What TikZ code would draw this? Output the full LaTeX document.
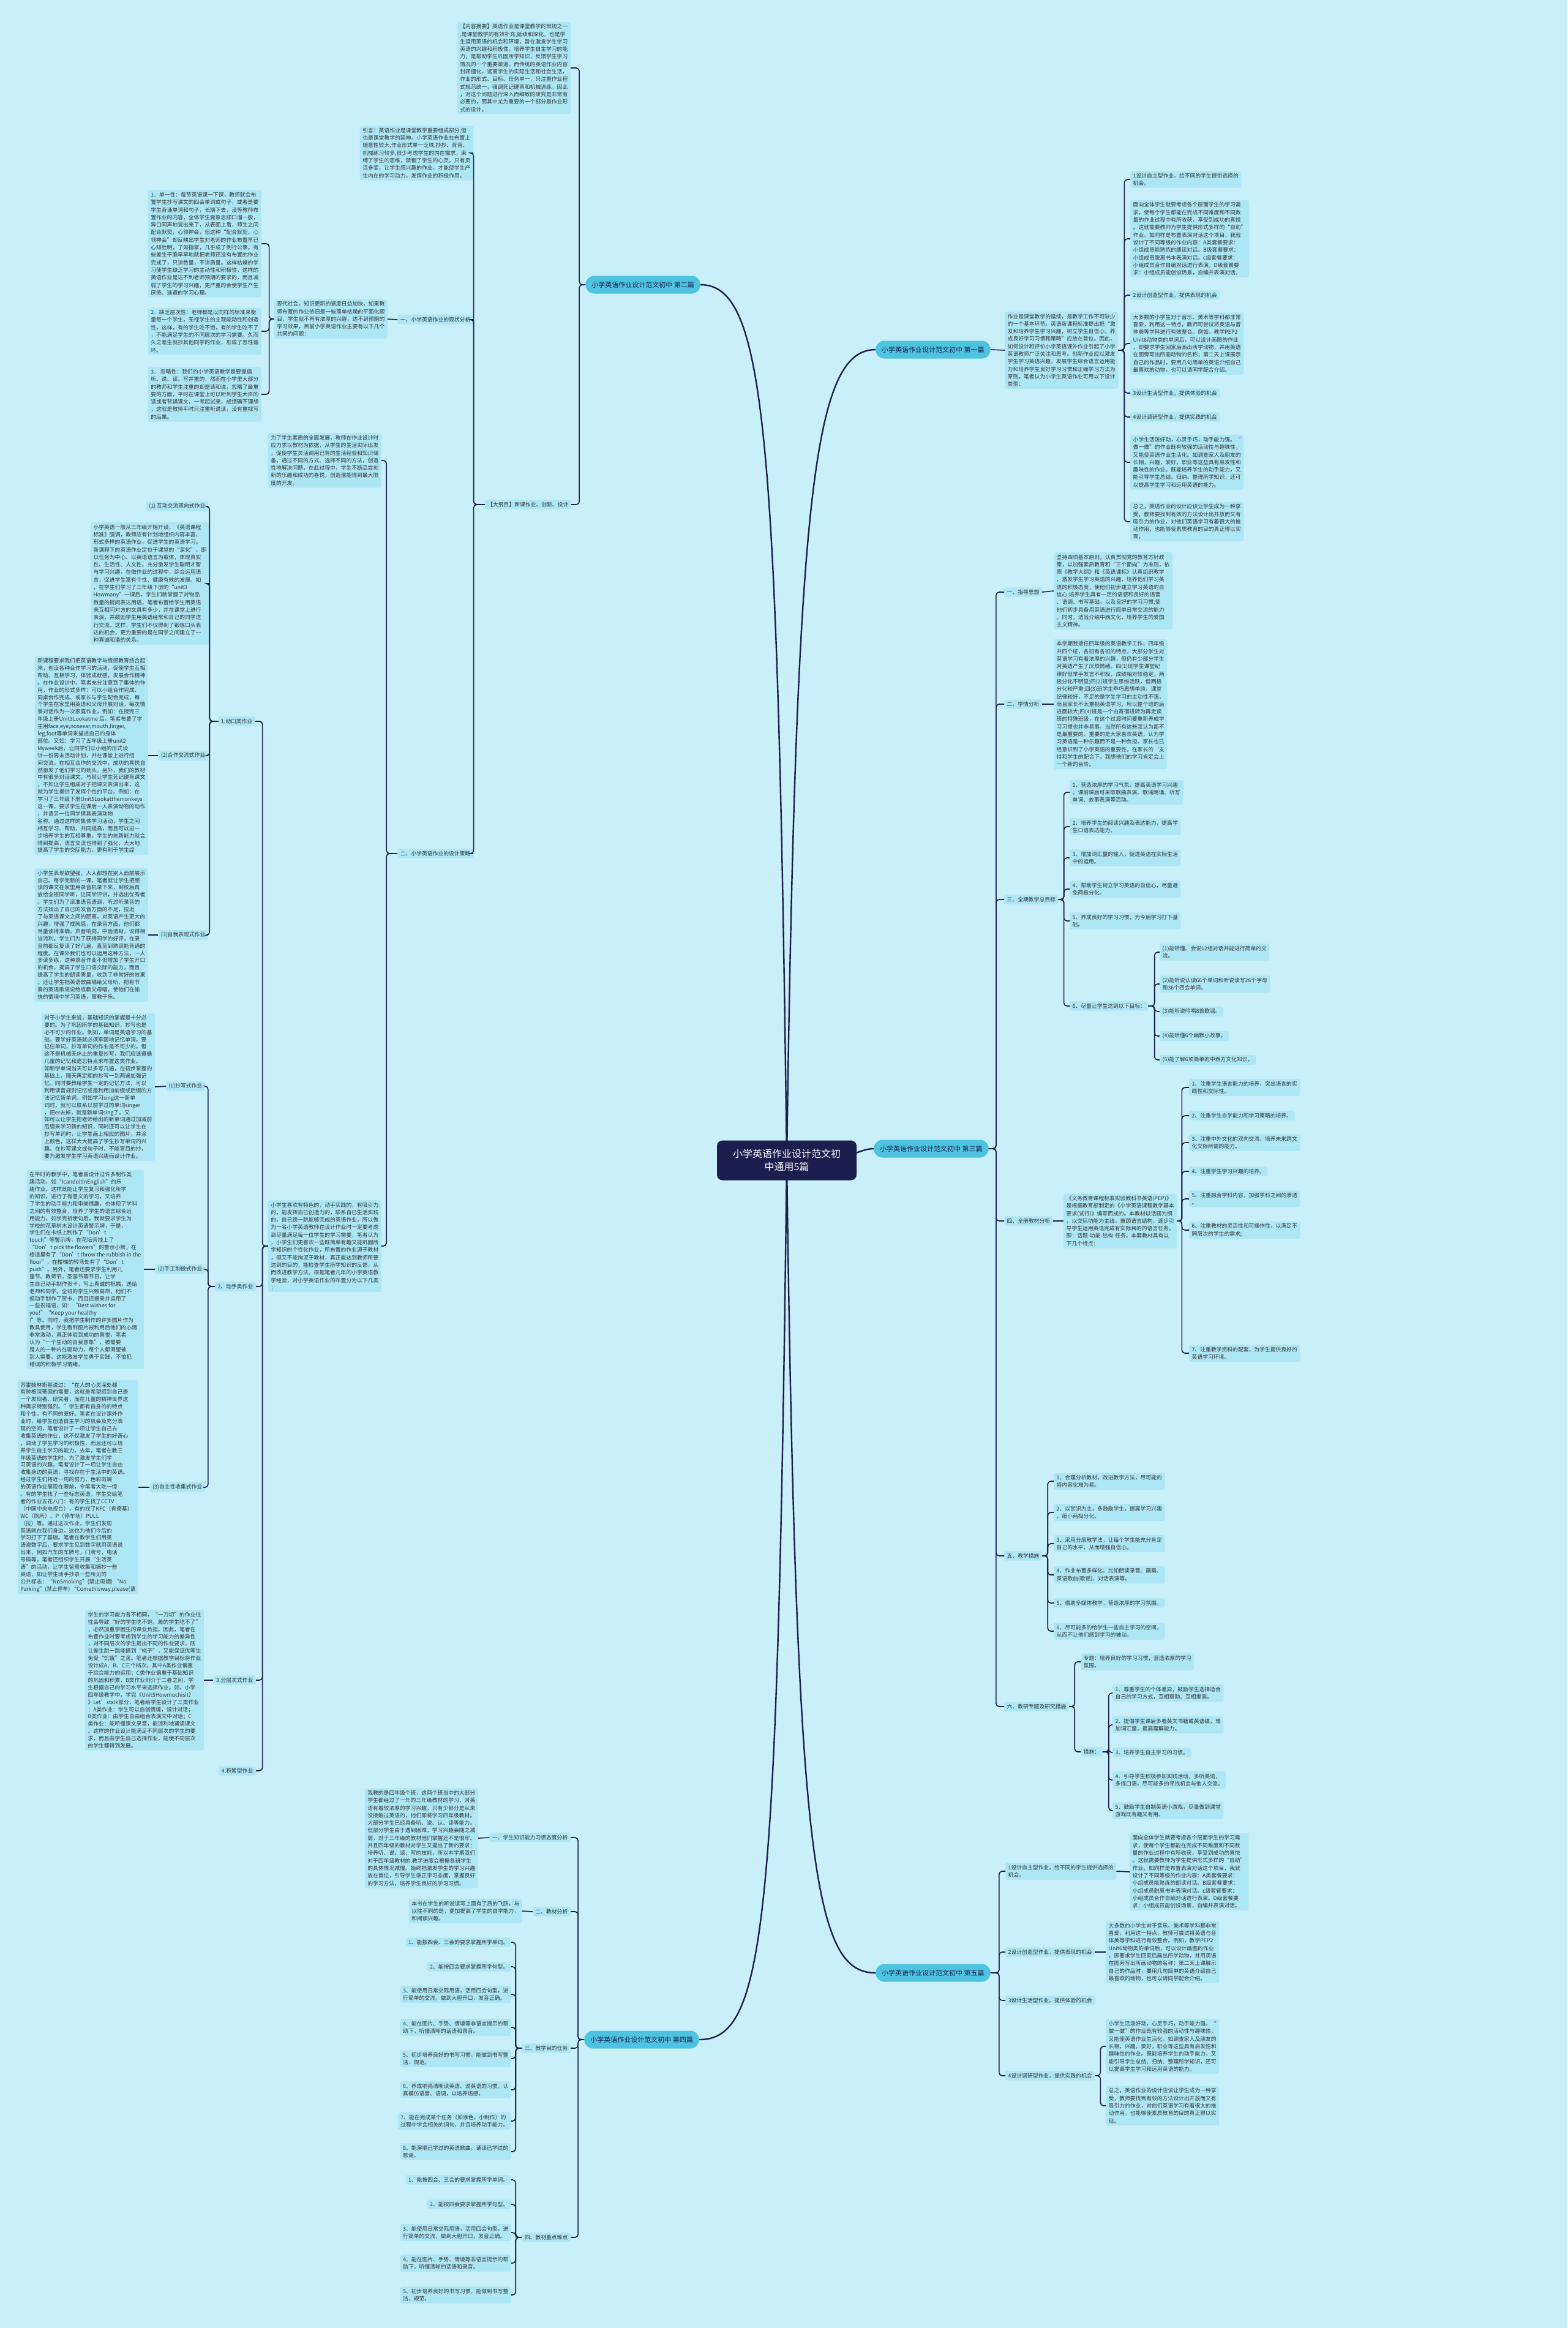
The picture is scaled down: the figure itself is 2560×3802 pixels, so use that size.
\documentclass[tikz,border=0pt]{standalone}
\usepackage{fontspec}
\setmainfont{Noto Sans CJK SC}
\usetikzlibrary{calc}
\definecolor{bgc}{HTML}{C9EFF8}
\definecolor{boxc}{HTML}{ADE6F4}
\definecolor{pillc}{HTML}{4EC3E0}
\definecolor{navy}{HTML}{1B1F4D}
\definecolor{txt}{HTML}{333333}
\pgfdeclarelayer{bg}\pgfdeclarelayer{lines}\pgfsetlayers{bg,lines,main}
\tikzset{
 box/.style={fill=boxc, rounded corners=3pt, align=left, inner xsep=4.5pt, inner ysep=3.5pt, font=\fontsize{8.8}{12.3}\selectfont, text=txt},
 tbox/.style={box, font=\fontsize{8.8}{11.9}\selectfont},
 pill/.style={fill=pillc, rounded corners=14pt, minimum height=29pt, inner xsep=10pt, font=\fontsize{11}{13}\selectfont, text=navy},
 hub/.style={fill=navy, text=white, rounded corners=9pt, align=center, minimum width=228pt, minimum height=65pt, font=\fontsize{16}{21}\selectfont},
 conn/.style={draw=navy, line width=1.6pt, rounded corners=5pt},
 curve/.style={draw=navy, line width=2.4pt},
}
\newcommand\rb[3]{\draw[conn] (#2.east) -- ++(#1,0) |- (#3.west);}
\newcommand\lb[3]{\draw[conn] (#2.west) -- ++(-#1,0) |- (#3.east);}
\begin{document}
\begin{tikzpicture}[x=1pt,y=-1pt]
\begin{pgfonlayer}{bg}
\fill[bgc] (0,0) rectangle (2560,3802);
\end{pgfonlayer}
\useasboundingbox (0,0) rectangle (2560,3802);

% ---------- hub and main branches
\node[hub] (c) at (1285,1895) {小学英语作业设计范文初\\中通用5篇};
\node[pill, anchor=east] (p2) at (1144,465) {小学英语作业设计范文初中 第二篇};
\node[pill, anchor=west] (p1) at (1430,571) {小学英语作业设计范文初中 第一篇};
\node[pill, anchor=west] (p3) at (1427,1876) {小学英语作业设计范文初中 第三篇};
\node[pill, anchor=west] (p5) at (1430,3222) {小学英语作业设计范文初中 第五篇};
\node[pill, anchor=east] (p4) at (1142,3331) {小学英语作业设计范文初中 第四篇};

% ---------- 第一篇
\node[box, anchor=west] (a0) at (1641,572) {作业是课堂教学的延续，是教学工作不可缺少\\的一个基本环节。英语新课程标准提出把“激\\发和培养学生学习兴趣，树立学生自信心，养\\成良好学习习惯和策略”应放在首位。因此，\\如何设计和评价小学英语课外作业引起了小学\\英语教师广泛关注和思考。创新作业应以激发\\学生学习英语兴趣，发展学生综合语言运用能\\力和培养学生良好学习习惯和正确学习方法为\\原则。笔者认为小学生英语作业可用以下设计\\类型：};
\node[box, anchor=west] (a1) at (1846,293) {1设计自主型作业，给不同的学生提供选择的\\机会。};
\node[box, anchor=west] (a2) at (1846,390) {面向全体学生就要考虑各个层面学生的学习需\\求，使每个学生都能在完成不同难度和不同数\\量的作业过程中有所收获，享受到成功的喜悦\\。这就需要教师为学生提供形式多样的“自助”\\作业。如同样是布置表演对话这个项目，我就\\设计了不同等级的作业内容：A类套餐要求：\\小组成员能熟练的朗读对话。B级套餐要求：\\小组成员脱离书本表演对话。c级套餐要求：\\小组成员合作自编对话进行表演。D级套餐要\\求：小组成员能创设场景，自编并表演对话。};
\node[box, anchor=west] (a3) at (1846,482) {2设计创造型作业，提供表现的机会};
\node[box, anchor=west] (a4) at (1846,561) {大多数的小学生对于音乐、美术等学科都非常\\喜爱，利用这一特点，教师可尝试将英语与音\\体美等学科进行有效整合。例如，教学PEP2\\Unit6动物类的单词后，可以设计画图的作业\\，即要求学生回家后画出所学动物，并用英语\\在图旁写出所画动物的名称；第二天上课展示\\自己的作品时，要用几句简单的英语介绍自己\\最喜欢的动物，也可以请同学配合介绍。};
\node[box, anchor=west] (a5) at (1846,642) {3设计生活型作业，提供体验的机会};
\node[box, anchor=west] (a6) at (1846,681) {4设计调研型作业，提供实践的机会};
\node[box, anchor=west] (a7) at (1846,755) {小学生活泼好动，心灵手巧，动手能力强。“\\做一做”的作业既有较强的活动性与趣味性，\\又能使英语作业生活化。如调查家人及朋友的\\长相，兴趣，爱好，职业等这些具有启发性和\\趣味性的作业。既能培养学生的动手能力，又\\能引导学生总结、归纳、整理所学知识，还可\\以提高学生学习和运用英语的能力。};
\node[box, anchor=west] (a8) at (1846,852) {总之，英语作业的设计应该让学生成为一种享\\受，教师要找到有效的方法设计出开放而又有\\吸引力的作业，对他们英语学习有着很大的推\\动作用，也能够使素质教育的目的真正得以实\\现。};

% ---------- 第三篇
\node[box, anchor=west] (b1) at (1640,967) {一、指导思想};
\node[box, anchor=west] (b1t) at (1721,965) {坚持四项基本原则，认真贯彻党的教育方针政\\策，以加强素质教育和“三个面向”为准则，依\\照《教学大纲》和《英语课标》认真组织教学\\，激发学生学习英语的兴趣，培养他们学习英\\语的积极态度，使他们初步建立学习英语的自\\信心;培养学生具有一定的语感和良好的语音\\、语调、书写基础，以及良好的学习习惯;使\\他们初步具备用英语进行简单日常交流的能力\\。同时，适当介绍中西文化，培养学生的爱国\\主义精神。};
\node[box, anchor=west] (b2) at (1640,1150) {二、学情分析};
\node[box, anchor=west] (b2t) at (1721,1150) {本学期我接任四年级的英语教学工作，四年级\\共四个班，各班有各班的特点，大部分学生对\\英语学习有着浓厚的兴趣，但仍有少部分学生\\对英语产生了厌烦情绪。四(1)班学生课堂纪\\律好但举手发言不积极，成绩相对较稳定，两\\极分化不明显;四(2)班学生思维活跃，但两极\\分化较严重;四(3)班学生乖巧思想单纯，课堂\\纪律较好，不足的是学生学习的主动性不强，\\而且家长不太重视英语学习。所以整个班的后\\进面较大;四(4)班是一个由寄宿班转为再走读\\班的特殊班级，在这个过渡时间要重新养成学\\习习惯也并非易事。当然所有这些我认为都不\\是最重要的，重要的是大家喜欢英语，认为学\\习英语是一种乐趣而不是一种负担。家长也已\\经意识到了小学英语的重要性，在家长的`支\\持和学生的配合下，我想他们的学习肯定会上\\一个新的台阶。};
\node[box, anchor=west] (b3) at (1640,1469) {三、全期教学总目标};
\node[box, anchor=west] (b31) at (1747,1294) {1、营造浓厚的学习气氛，提高英语学习兴趣\\。课前课后可采取歌曲表演、歌谣朗诵、听写\\单词、故事表演等活动。};
\node[box, anchor=west] (b32) at (1747,1350) {2、培养学生的阅读兴趣及表达能力，提高学\\生口语表达能力。};
\node[box, anchor=west] (b33) at (1747,1401) {3、增加词汇量的输入，促进英语在实际生活\\中的运用。};
\node[box, anchor=west] (b34) at (1747,1452) {4、帮助学生树立学习英语的自信心，尽量避\\免两极分化。};
\node[box, anchor=west] (b35) at (1747,1504) {5、养成良好的学习习惯，为今后学习打下基\\础。};
\node[box, anchor=west] (b36) at (1747,1643) {6、尽量让学生达到以下目标：};
\node[box, anchor=west] (b361) at (1894,1555) {(1)能听懂、会说12组对话并能进行简单的交\\流。};
\node[box, anchor=west] (b362) at (1894,1607) {(2)能听说认读66个单词和听说读写26个字母\\和36个四会单词。};
\node[box, anchor=west] (b363) at (1894,1652) {(3)能听说吟唱8首歌谣。};
\node[box, anchor=west] (b364) at (1894,1692) {(4)能听懂6个幽默小故事。};
\node[box, anchor=west] (b365) at (1894,1731) {(5)能了解6项简单的中西方文化知识。};
\node[box, anchor=west] (b4) at (1640,1994) {四、全册教材分析};
\node[box, anchor=west] (b4t) at (1737,1994) {《义务教育课程标准实验教科书英语(PEP)》\\是根据教育部制定的《小学英语课程教学基本\\要求(试行)》编写而成的。本教材以话题为纲\\，以交际功能为主线，兼顾语言结构，逐步引\\导学生运用英语完成有实际目的的语言任务，\\即：话题-功能-结构-任务。本套教材具有以\\下几个特点：};
\node[box, anchor=west] (b41) at (1942,1776) {1、注重学生语言能力的培养，突出语言的实\\践性和交际性。};
\node[box, anchor=west] (b42) at (1942,1822) {2、注重学生自学能力和学习策略的培养。};
\node[box, anchor=west] (b43) at (1942,1866) {3、注重中外文化的双向交流，培养未来跨文\\化交际所需的能力。};
\node[box, anchor=west] (b44) at (1942,1913) {4、注重学生学习兴趣的培养。};
\node[box, anchor=west] (b45) at (1942,1958) {5、注重融合学科内容，加强学科之间的渗透\\。};
\node[box, anchor=west] (b46) at (1942,2009) {6、注重教材的灵活性和可操作性，以满足不\\同层次的学生的需求;};
\node[box, anchor=west] (b47) at (1942,2210) {7、注重教学资料的配套，为学生提供良好的\\英语学习环境。};
\node[box, anchor=west] (b5) at (1640,2541) {五、教学措施};
\node[box, anchor=west] (b51) at (1721,2419) {1、合理分析教材，改进教学方法，尽可能的\\将内容化难为易。};
\node[box, anchor=west] (b52) at (1721,2470) {2、以赏识为主，多鼓励学生，提高学习兴趣\\，缩小两极分化。};
\node[box, anchor=west] (b53) at (1721,2521) {3、采用分层教学法，让每个学生能充分肯定\\自己的水平，从而增强自信心。};
\node[box, anchor=west] (b54) at (1721,2572) {4、作业布置多样化。比如朗读录音、画画、\\英语歌曲(歌谣)、对话表演等。};
\node[box, anchor=west] (b55) at (1721,2618) {5、借助多媒体教学，营造浓厚的学习氛围。};
\node[box, anchor=west] (b56) at (1721,2664) {6、尽可能多的给学生一些自主学习的空间，\\从而不让他们感到学习的被动。};
\node[box, anchor=west] (b6) at (1640,2787) {六、教研专题及研究措施};
\node[box, anchor=west] (b6a) at (1765,2714) {专题：培养良好的学习习惯，营造浓厚的学习\\氛围。};
\node[box, anchor=west] (b6b) at (1765,2861) {措施：};
\node[box, anchor=west] (b6b1) at (1817,2765) {1、尊重学生的个体差异，鼓励学生选择适合\\自己的学习方式，互相帮助、互相提高。};
\node[box, anchor=west] (b6b2) at (1817,2817) {2、提倡学生课后多看英文书籍或英语碟，增\\加词汇量，提高理解能力。};
\node[box, anchor=west] (b6b3) at (1817,2862) {3、培养学生自主学习的习惯。};
\node[box, anchor=west] (b6b4) at (1817,2907) {4、引导学生积极参加实践活动，多听英语，\\多练口语，尽可能多的寻找机会与他人交流。};
\node[box, anchor=west] (b6b5) at (1817,2957) {5、鼓励学生自制英语小游戏，尽量做到课堂\\游戏既有趣又有用。};

% ---------- 第五篇
\node[box, anchor=west] (e1) at (1642,3056) {1设计自主型作业，给不同的学生提供选择的\\机会。};
\node[box, anchor=west] (e1t) at (1845,3057) {面向全体学生就要考虑各个层面学生的学习需\\求，使每个学生都能在完成不同难度和不同数\\量的作业过程中有所收获，享受到成功的喜悦\\。这就需要教师为学生提供形式多样的“自助”\\作业。如同样是布置表演对话这个项目，我就\\设计了不同等级的作业内容：A类套餐要求：\\小组成员能熟练的朗读对话。B级套餐要求：\\小组成员脱离书本表演对话。c级套餐要求：\\小组成员合作自编对话进行表演。D级套餐要\\求：小组成员能创设场景，自编并表演对话。};
\node[box, anchor=west] (e2) at (1642,3188) {2设计创造型作业，提供表现的机会};
\node[box, anchor=west] (e2t) at (1806,3188) {大多数的小学生对于音乐、美术等学科都非常\\喜爱，利用这一特点，教师可尝试将英语与音\\体美等学科进行有效整合。例如，教学PEP2\\Unit6动物类的单词后，可以设计画图的作业\\，即要求学生回家后画出所学动物，并用英语\\在图旁写出所画动物的名称；第二天上课展示\\自己的作品时，要用几句简单的英语介绍自己\\最喜欢的动物，也可以请同学配合介绍。};
\node[box, anchor=west] (e3) at (1642,3267) {3设计生活型作业，提供体验的机会};
\node[box, anchor=west] (e4) at (1642,3390) {4设计调研型作业，提供实践的机会};
\node[box, anchor=west] (e4a) at (1806,3342) {小学生活泼好动，心灵手巧，动手能力强。“\\做一做”的作业既有较强的活动性与趣味性，\\又能使英语作业生活化。如调查家人及朋友的\\长相，兴趣，爱好，职业等这些具有启发性和\\趣味性的作业。既能培养学生的动手能力，又\\能引导学生总结、归纳、整理所学知识，还可\\以提高学生学习和运用英语的能力。};
\node[box, anchor=west] (e4b) at (1806,3439) {总之，英语作业的设计应该让学生成为一种享\\受，教师要找到有效的方法设计出开放而又有\\吸引力的作业，对他们英语学习有着很大的推\\动作用，也能够使素质教育的目的真正得以实\\现。};

% ---------- 第四篇
\node[box, anchor=east] (f1) at (932,3001) {一、学生知识能力习惯态度分析};
\node[box, anchor=east] (f1t) at (781,3002) {我教的是四年级个班，这两个班当中的大部分\\学生都经过了一年的三年级教材的学习，对英\\语有着较浓厚的学习兴趣，只有少部分是从来\\没接触过英语的，他们即将学习四年级教材。\\大部分学生已经具备听、说、认、读等能力。\\但部分学生由于遇到困难，学习兴趣会随之减\\弱，对于三年级的教材他们掌握还不是很牢。\\并且四年级的教材对学生又提出了新的要求：\\培养听、说、读、写的技能，所以本学期我们\\对于四年级教材的.教学进度会根据各班学生\\的具体情况减慢。始终把激发学生的学习兴趣\\放在首位，引导学生端正学习态度，掌握良好\\的学习方法，培养学生良好的学习习惯。};
\node[box, anchor=east] (f2) at (932,3122) {二、教材分析};
\node[box, anchor=east] (f2t) at (853,3121) {本书在学生的听说读写上面有了质的飞跃，与\\以往不同的是，更加提高了学生的自学能力，\\和阅读兴趣。};
\node[box, anchor=east] (f3) at (932,3345) {三、教学目的任务};
\node[box, anchor=east] (f31) at (835,3172) {1、能按四会、三会的要求掌握所学单词。};
\node[box, anchor=east] (f32) at (835,3212) {2、能按四会要求掌握所学句型。};
\node[box, anchor=east] (f33) at (835,3257) {3、能使用日常交际用语，活用四会句型，进\\行简单的交流，做到大胆开口，发音正确。};
\node[box, anchor=east] (f34) at (835,3311) {4、能在图片、手势、情境等非语言提示的帮\\助下，听懂清晰的话语和录音。};
\node[box, anchor=east] (f35) at (835,3362) {5、初步培养良好的书写习惯，能做到书写整\\洁、规范。};
\node[box, anchor=east] (f36) at (835,3413) {6、养成响亮清晰读英语、说英语的习惯，认\\真模仿语音、语调，以培养语感。};
\node[box, anchor=east] (f37) at (835,3464) {7、能在完成某个任务（如涂色，小制作）的\\过程中学会相关的词句，并且培养动手能力。};
\node[box, anchor=east] (f38) at (835,3514) {8、能演唱已学过的英语歌曲，诵读已学过的\\歌谣。};
\node[box, anchor=east] (f4) at (932,3654) {四、教材重点难点};
\node[box, anchor=east] (f41) at (835,3560) {1、能按四会、三会的要求掌握所学单词。};
\node[box, anchor=east] (f42) at (835,3600) {2、能按四会要求掌握所学句型。};
\node[box, anchor=east] (f43) at (835,3646) {3、能使用日常交际用语，活用四会句型，进\\行简单的交流，做到大胆开口，发音正确。};
\node[box, anchor=east] (f44) at (835,3696) {4、能在图片、手势、情境等非语言提示的帮\\助下，听懂清晰的话语和录音。};
\node[box, anchor=east] (f45) at (835,3748) {5、初步培养良好的书写习惯，能做到书写整\\洁、规范。};

% ---------- 第二篇
\node[box, anchor=east] (zy) at (932,111) {【内容摘要】英语作业是课堂教学的常规之一\\,是课堂教学的有效补充,延续和深化，也是学\\生运用英语的机会和环境，旨在激发学生学习\\英语的兴趣和积极性，培养学生自主学习的能\\力，是帮助学生巩固所学知识，反馈学生学习\\情况的一个重要渠道。而传统的英语作业内容\\封闭僵化，远离学生的实际生活和社会生活，\\作业的形式、目标、任务单一，只注重作业程\\式规范统一，强调死记硬背和机械训练。因此\\，对这个问题进行深入而细致的研究是非常有\\必要的，而其中尤为重要的一个部分是作业形\\式的设计。};
\node[box, anchor=east] (dg) at (933,824) {【大纲目】新课作业、创新、设计};
\node[box, anchor=east] (yy) at (773,250) {引言：英语作业是课堂教学重要组成部分,但\\也是课堂教学的延伸。小学英语作业在布置上\\随意性较大,作业形式单一乏味,抄抄、背背、\\机械练习较多,很少考虑学生的内在需求，束\\缚了学生的思维，禁锢了学生的心灵。只有灵\\活多变，让学生感兴趣的作业，才能使学生产\\生内在的学习动力，发挥作业的积极作用。};
\node[box, anchor=east] (x1) at (773,522) {一、小学英语作业的现状分析};
\node[box, anchor=east] (xd) at (633,521) {现代社会，知识更新的速度日益加快，如果教\\师布置的作业依旧是一些简单枯燥的平面化题\\目，学生就不再有浓厚的兴趣，达不到预期的\\学习效果，目前小学英语作业主要有以下几个\\共同的问题：};
\node[box, anchor=east] (d1) at (427,398) {1．单一性：每节英语课一下课，教师就会布\\置学生抄写课文的四会单词或句子，或者是要\\学生背诵单词和句子，长期下去，没等教师布\\置作业的内容，全体学生竟象念顺口溜一般，\\异口同声地说出来了，从表面上看，师生之间\\配合默契，心领神会，但这种“配合默契，心\\领神会”却反映出学生对老师的作业布置早已\\心知肚明，了如指掌，几乎成了例行公事。有\\些差生干脆早早地就把老师还没有布置的作业\\完成了，只讲数量，不讲质量。这样枯燥的学\\习使学生缺乏学习的主动性和积极性，这样的\\英语作业是达不到老师预期的要求的，而且减\\弱了学生的学习兴趣，更严重的会使学生产生\\厌倦、逃避的学习心理。};
\node[box, anchor=east] (d2) at (427,541) {2．缺乏层次性：老师都是以同样的标准来衡\\量每一个学生，无视学生的主观能动性和创造\\性，这样，有的学生吃不饱，有的学生吃不了\\，不能满足学生的不同层次的学习需要。久而\\久之差生就抄其他同学的作业，形成了恶性循\\环。};
\node[box, anchor=east] (d3) at (427,644) {3． 忽略性：我们的小学英语教学是要提倡\\听、说、读、写并重的，然而在小学里大部分\\的教师和学生注重的却是读和说，忽略了最重\\要的方面，平时在课堂上可以听到学生大声的\\读或者背诵课文，一考起试来，成绩确不理想\\，这就是教师平时只注重听说读，没有重视写\\的后果。};
\node[box, anchor=east] (er) at (773,1394) {二、小学英语作业的设计策略};
\node[box, anchor=east] (wl) at (623,752) {为了学生素质的全面发展，教师在作业设计时\\应力求以教材为依据，从学生的生活实际出发\\，促使学生灵活调用已有的生活经验和知识储\\备，通过不同的方式、选择不同的方法，创造\\性地解决问题，在此过程中，学生不断品尝创\\新的乐趣和成功的喜悦，创造潜能得到最大限\\度的开发。};
\node[box, anchor=east] (xs) at (623,2035) {小学生喜欢有特色的，动手实践的，有吸引力\\的，能发挥自已创造力的，联系自已生活实践\\的，自己跳一跳能够完成的英语作业，所以做\\为一名小学英语教师在设计作业时一定要考虑\\到尽量满足每一位学生的学习需要，笔者认为\\，小学生们更喜欢一些既简单有趣又能巩固所\\学知识的个性化作业，所布置的作业源于教材\\，但又不能拘泥于教材，真正能达到教师所要\\达到的目的，能检查学生所学知识的反馈，从\\而改进教学方法。根据笔者几年的小学英语教\\学经验，对小学英语作业的布置分为以下几类\\：};
\node[box, anchor=east] (k1) at (417,1178) {1.动口类作业};
\node[box, anchor=east] (k1a) at (340,827) {(1) 互动交流双向式作业};
\node[box, anchor=east] (k1t) at (342,953) {小学英语一般从三年级开始开设，《英语课程\\标准》强调，教师应有计划地组织内容丰富、\\形式多样的英语作业，促进学生的英语学习。\\新课程下的英语作业定位于课堂的“深化”，即\\以任务为中心、以英语语言为载体，体现真实\\性、生活性、人文性，充分激发学生聪明才智\\与学习兴趣，在做作业的过程中，综合运用语\\言，促进学生富有个性、健康有效的发展。如\\，在学生们学习了三年级下册的“unit3\\Howmany”一课后，学生们就掌握了对物品\\数量的提问表达用语，笔者布置给学生用英语\\来互相问对方的文具有多少，并在课堂上进行\\表演，并鼓励学生用英语经常和自己的同学进\\行交流，这样，学生们不仅得到了锻炼口头表\\达的机会，更为重要的是在同学之间建立了一\\种真诚和谐的关系。};
\node[box, anchor=east] (k1b) at (340,1234) {(2)合作交流式作业};
\node[tbox, anchor=east] (k1bt) at (242,1234) {新课程要求我们把英语教学与情感教育结合起\\来，创设各种合作学习的活动，促使学生互相\\帮助、互相学习，体验成就感，发展合作精神\\。在作业设计中，笔者充分注意到了集体的作\\用，作业的形式多样：可以小组合作完成、\\同桌合作完成、或家长与学生配合完成，每\\个学生在家里用英语和父母开展对话，每次情\\景对话作为一次家庭作业，例如：在授完三\\年级上册Unit3Lookatme 后，笔者布置了学\\生用face,eye,noseear,mouth,finger,\\leg,foot等单词来描述自己的身体\\部位。又如：学习了五年级上册unit2\\Myweek后，让同学们以小组的形式设\\计一份周末活动计划，并在课堂上进行组\\间交流。在相互合作的交流中，成功的喜悦自\\然激发了他们学习的劲头。另外，我们的教材\\中有很多对话课文，与其让学生死记硬背课文\\，不如让学生组成对子把课文表演出来，这\\就为学生提供了发挥个性的平台。例如：在\\学习了三年级下册Unit5Lookatthemonkeys\\这一课，要求学生在课后一人表演动物的动作\\，并请另一位同学猜其表演动物\\名称。通过这样的集体学习活动，学生之间\\相互学习、帮助，共同提高，而且可以进一\\步培养学生的互相尊重，学生的创新能力就会\\得到提高，语言交流也得到了强化，大大地\\提高了学生的交际能力，更有利于学生综};
\node[box, anchor=east] (k1c) at (340,1527) {(3)自我表现式作业};
\node[tbox, anchor=east] (k1ct) at (242,1527) {小学生表现欲望强，人人都想在别人面前展示\\自己。每学完新的一课，笔者就让学生把朗\\读的课文在家里用录音机录下来，到校后再\\放给全班同学听，让同学评讲，并选出优秀者\\。学生们为了读准语音语调，听过听录音的\\方法找出了自己的发音方面的不足，拉近\\了与英语课文之间的距离，对英语产生更大的\\兴趣，增强了成就感，在录音方面，他们都\\尽量读得准确，声音响亮，中齿清晰，说得相\\当流利。学生们为了获得同学的好评，在录\\音前都反复读了好几遍，直至到熟读能背诵的\\程度。在课外我们也可以运用这种方法，一人\\多读多练，这种录音作业不但增加了学生开口\\的机会，提高了学生口语交际的能力，而且\\提高了学生的朗读质量，收到了非常好的效果\\。还让学生把英语歌曲唱给父母听，把有节\\奏的英语歌谣说给或教父母唱，使他们在愉\\快的情境中学习英语，寓教于乐。};
\node[box, anchor=east] (k2) at (418,2101) {2、动手类作业};
\node[box, anchor=east] (k2a) at (335,1774) {(1)抄写式作业};
\node[tbox, anchor=east] (k2at) at (253,1775) {对于小学生来说，基础知识的掌握是十分必\\要的。为了巩固所学的基础知识，抄写也是\\必不可少的作业。例如，单词是英语学习的基\\础，要学好英语就必须牢固地记忆单词。要\\记住单词，抄写单词的作业是不可少的。但\\这不是机械无休止的重复抄写，我们应该遵循\\儿童的记忆和遗忘特点来布置这类作业。\\如新学单词当天可以多写几遍，在初步掌握的\\基础上，隔天再定期的抄写一到两遍加强记\\忆。同时要教给学生一定的记忆方法，可以\\利用读音规则记忆或是利用加前缀或后缀的方\\法记忆新单词，例如学习sing这一新单\\词时，就可以联系以前学过的单词singer\\，把er去掉，就是新单词sing了。又\\如可以让学生把老师给出的新单词通过加减前\\后缀来学习新的知识，同时还可以让学生在\\抄写单词时，让学生画上相应的图片，并涂\\上颜色，这样大大提高了学生抄写单词的兴\\趣。在抄写课文或句子时，不能盲目的抄，\\要为激发学生学习英语兴趣而设计作业。};
\node[box, anchor=east] (k2b) at (335,2073) {(2)手工制做式作业};
\node[tbox, anchor=east] (k2bt) at (235,2073) {在平时的教学中，笔者曾设计过许多制作类\\趣活动，如“IcandoitinEnglish”的乐\\趣作业。这样既能让学生复习和强化所学\\的知识，进行了有意义的学习，又培养\\了学生的动手能力和审美情趣，也体现了学科\\之间的有效整合，培养了学生的语言综合运\\用能力。如学完祈使句后，我就要求学生为\\学校的花草树木设计英语警示牌，于是，\\学生们在卡纸上制作了“Don’t\\touch”等警示牌，在花坛旁挂上了\\“Don’t pick the flowers”的警示小牌，在\\楼道里有了“Don’t throw the rubbish in the\\floor”，在楼梯的转弯处有了“Don’t\\push”。另外，笔者还要求学生利用儿\\童节、教师节，圣诞节等节日，让学\\生自己动手制作贺卡，写上真诚的祝福，送给\\老师和同学。全班的学生兴致高昂，他们不\\但动手制作了贺卡，而且还摘录并运用了\\一些祝福语，如：“Best wishes for\\you!”“Keep your healthy\\!”等。同时，我把学生制作的许多图片作为\\教具使用，学生看到图片被利用后他们的心情\\非常激动，真正体验到成功的喜悦，笔者\\认为“一个生动的自我意象”，被需要\\是人的一种内在驱动力，每个人都渴望被\\别人需要。这能激发学生勇于实践，不怕犯\\错误的积极学习情绪。};
\node[box, anchor=east] (k2c) at (335,2429) {(3)自主性收集式作业};
\node[tbox, anchor=east] (k2ct) at (226,2429) {苏霍姆林斯基说过：“在人的心灵深处都\\有种根深蒂固的需要，这就是希望感到自己是\\一个发现者、研究者，而在儿童的精神世界这\\种需求特别强烈。”学生都有自身的的特点\\和个性，有不同的爱好。笔者在设计课外作\\业时，给学生创造自主学习的机会及充分表\\现的空间，笔者设计了一项让学生自己去\\收集英语的作业，这不仅激发了学生的好奇心\\，调动了学生学习的积极性，而且还可以培\\养学生自主学习的能力。去年，笔者在教三\\年级英语的学生时，为了激发学生们学\\习英语的兴趣，笔者设计了一项让学生自由\\收集身边的英语，寻找存在于生活中的英语。\\经过学生们将近一周的努力，色彩斑斓\\的英语作业展现在眼前，令笔者大吃一惊\\。有的学生找了一些标志英语，学生交给笔\\者的作业五花八门：有的学生找了CCTV\\（中国中央电视台），有的找了KFC（肯德基）\\WC（厕所）、P（停车场）PULL\\（拉）等。通过这次作业，学生们发现\\英语就在我们身边，这也为他们今后的\\学习打下了基础。笔者在教学生们用英\\语说数字后，要求学生见到数字就用英语说\\出来，例如汽车的车牌号，门牌号，电话\\号码等。笔者还组织学生开展“生活英\\语”的活动，让学生留意收集和摘抄一些\\英语，如让学生动手抄录一些所见的\\公共标志：“NoSmoking”(禁止吸烟) “No\\Parking”(禁止停车) “Comethisway,please(请};
\node[box, anchor=east] (k3) at (418,2744) {3.分层次式作业};
\node[tbox, anchor=east] (k3t) at (333,2744) {学生的学习能力各不相同，“一刀切”的作业往\\往会导致“好的学生吃不饱，差的学生吃不了”\\，必然加重学困生的课业负担。因此，笔者在\\布置作业时要考虑到学生的学习能力的差异性\\，对不同层次的学生提出不同的作业要求，既\\让差生跳一跳能摘到“桃子”，又能保证优等生\\免受“饥饿”之苦。笔者还根据教学目标将作业\\设计成A、B、C三个档次。其中A类作业偏重\\于综合能力的运用；C类作业偏重于基础知识\\的巩固和积累，B类作业则介于二者之间，学\\生根据自己的学习水平来选择作业。如，小学\\四年级教学中，学完《Unit5Howmuchisit?\\》Let'stalk部分，笔者给学生设计了三类作业\\：A类作业：学生可以自创情境，设计对话；\\B类作业：由学生自由组合表演文中对话；C\\类作业：能听懂课文录音，能流利地诵读课文\\。这样的作业设计能满足不同层次的学生的要\\求，而且由学生自己选择作业，能使不同层次\\的学生都得到发展。};
\node[box, anchor=east] (k4) at (418,2892) {4.积累型作业};

% ---------- connectors
\begin{pgfonlayer}{lines}
\draw[curve] (c.center) .. controls (1300,800) and (1330,571) .. (p1.west);
\draw[curve] (c.center) .. controls (1400,1895) and (1400,1876) .. (p3.west);
\draw[curve] (c.center) .. controls (1300,3050) and (1330,3222) .. (p5.west);
\draw[curve] (c.center) .. controls (1270,700) and (1250,465) .. (p2.east);
\draw[curve] (c.center) .. controls (1270,3150) and (1250,3331) .. (p4.east);
\end{pgfonlayer}
% 第一篇
\draw[conn] (p1.east) -- (a0.west);
\foreach \n in {a1,a2,a3,a4,a5,a6,a7,a8} {\rb{10}{a0}{\n}}
% 第三篇
\foreach \n in {b1,b2,b3,b4,b5,b6} {\rb{12}{p3}{\n}}
\draw[conn] (b1.east) -- (b1t.west);
\draw[conn] (b2.east) -- (b2t.west);
\foreach \n in {b31,b32,b33,b34,b35,b36} {\rb{9}{b3}{\n}}
\foreach \n in {b361,b362,b363,b364,b365} {\rb{10}{b36}{\n}}
\draw[conn] (b4.east) -- (b4t.west);
\foreach \n in {b41,b42,b43,b44,b45,b46,b47} {\rb{8}{b4t}{\n}}
\foreach \n in {b51,b52,b53,b54,b55,b56} {\rb{9}{b5}{\n}}
\foreach \n in {b6a,b6b} {\rb{9}{b6}{\n}}
\foreach \n in {b6b1,b6b2,b6b3,b6b4,b6b5} {\rb{10}{b6b}{\n}}
% 第五篇
\foreach \n in {e1,e2,e3,e4} {\rb{14}{p5}{\n}}
\draw[conn] (e1.east) -- (e1t.west);
\draw[conn] (e2.east) -- (e2t.west);
\foreach \n in {e4a,e4b} {\rb{9}{e4}{\n}}
% 第四篇
\foreach \n in {f1,f2,f3,f4} {\lb{10}{p4}{\n}}
\draw[conn] (f1.west) -- (f1t.east);
\draw[conn] (f2.west) -- (f2t.east);
\foreach \n in {f31,f32,f33,f34,f35,f36,f37,f38} {\lb{10}{f3}{\n}}
\foreach \n in {f41,f42,f43,f44,f45} {\lb{10}{f4}{\n}}
% 第二篇
\foreach \n in {zy,dg} {\lb{10}{p2}{\n}}
\foreach \n in {yy,x1,er} {\lb{18}{dg}{\n}}
\draw[conn] (x1.west) -- (xd.east);
\foreach \n in {d1,d2,d3} {\lb{8}{xd}{\n}}
\foreach \n in {wl,xs} {\lb{18}{er}{\n}}
\foreach \n in {k1,k2,k3,k4} {\lb{9}{xs}{\n}}
\foreach \n in {k1a,k1t,k1b,k1c} {\lb{14}{k1}{\n}}
\draw[conn] (k1b.west) -- (k1bt.east);
\draw[conn] (k1c.west) -- (k1ct.east);
\foreach \n in {k2a,k2b,k2c} {\lb{11}{k2}{\n}}
\draw[conn] (k2a.west) -- (k2at.east);
\draw[conn] (k2b.west) -- (k2bt.east);
\draw[conn] (k2c.west) -- (k2ct.east);
\draw[conn] (k3.west) -- (k3t.east);
\end{tikzpicture}
\end{document}
